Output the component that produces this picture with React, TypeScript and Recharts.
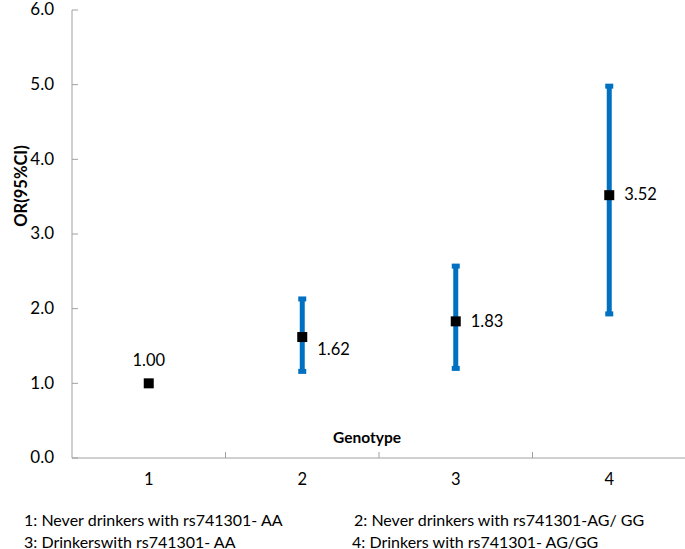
import React from 'react';
import { ScatterChart, Scatter, XAxis, YAxis, ErrorBar } from 'recharts';

const genotypes = [1, 2, 3, 4];
const orValues = [1.0, 1.62, 1.83, 3.52];
const ciLower: (number | null)[] = [null, 1.16, 1.2, 1.93];
const ciUpper: (number | null)[] = [null, 2.13, 2.57, 4.98];
const yTicks = [0, 1, 2, 3, 4, 5, 6];
const xTicks = [0.5, 1, 1.5, 2, 2.5, 3, 3.5, 4, 4.5];
const footnotes = [
  '1: Never drinkers with rs741301- AA',
  '2: Never drinkers with rs741301-AG/ GG',
  '3: Drinkerswith rs741301- AA',
  '4: Drinkers with rs741301- AG/GG'
];

const data = genotypes.map((g, i) => ({
  genotype: g,
  or: orValues[i],
  ci:
    ciLower[i] == null || ciUpper[i] == null
      ? null
      : [orValues[i] - (ciLower[i] as number), (ciUpper[i] as number) - orValues[i]]
}));

const FONT = 'Lato, "Open Sans", sans-serif';
const AXIS = '#a0a0a0';
const BLUE = '#0070c0';

const XTick = (props: any) => {
  const { x, y, payload } = props;
  const v = payload.value;
  if (Number.isInteger(v)) {
    return (
      <text x={x} y={y + 23} textAnchor="middle" dominantBaseline="middle" fontSize={16.5} fontFamily={FONT} fill="#000">
        {v}
      </text>
    );
  }
  if (v > 0.5 && v < 4.5) {
    return <line x1={x} x2={x} y1={y} y2={y - 6} stroke={AXIS} strokeWidth={1} />;
  }
  return null;
};

const YTick = (props: any) => {
  const { x, y, payload } = props;
  return (
    <g>
      <line x1={x} x2={x + 6} y1={y} y2={y} stroke={AXIS} strokeWidth={1} />
      <text x={x - 18} y={y + 1} textAnchor="end" dominantBaseline="middle" fontSize={17} fontFamily={FONT} fill="#000">
        {payload.value.toFixed(1)}
      </text>
    </g>
  );
};

const PointShape = (props: any) => {
  const { cx, cy, payload, index } = props;
  const s = 10;
  const label = payload.or.toFixed(2);
  const above = index === 0;
  return (
    <g>
      <rect x={cx - s / 2} y={cy - s / 2} width={s} height={s} fill="#000" />
      {above ? (
        <text x={cx} y={cy - 22} textAnchor="middle" dominantBaseline="middle" fontSize={16.5} fontFamily={FONT} fill="#000">
          {label}
        </text>
      ) : (
        <text
          x={cx + 15}
          y={cy + (index === 1 ? 14 : 1)}
          textAnchor="start"
          dominantBaseline="middle"
          fontSize={16.5}
          fontFamily={FONT}
          fill="#000"
        >
          {label}
        </text>
      )}
    </g>
  );
};

const App = () => {
  return (
    <div style={{ position: 'absolute', left: 0, top: 0, width: 685, height: 549, overflow: 'hidden', background: '#fff' }}>
      <ScatterChart width={700} height={549} margin={{ top: 10, right: 14, left: 0, bottom: 51 }}>
        <XAxis
          type="number"
          dataKey="genotype"
          domain={[0.5, 4.5]}
          ticks={xTicks}
          interval={0}
          tickSize={0}
          tickMargin={0}
          tickLine={false}
          height={40}
          axisLine={{ stroke: AXIS }}
          tick={<XTick />}
        />
        <YAxis
          type="number"
          dataKey="or"
          domain={[0, 6]}
          ticks={yTicks}
          interval={0}
          tickSize={0}
          tickMargin={0}
          tickLine={false}
          width={72}
          axisLine={{ stroke: AXIS }}
          tick={<YTick />}
        />
        <Scatter data={data} isAnimationActive={false} shape={() => <g />}>
          <ErrorBar dataKey="ci" direction="y" width={4} stroke={BLUE} strokeWidth={5} isAnimationActive={false} />
        </Scatter>
        <Scatter data={data} isAnimationActive={false} shape={<PointShape />} />
      </ScatterChart>
      <div
        style={{
          position: 'absolute',
          left: 367,
          top: 437,
          transform: 'translate(-50%, -50%)',
          fontFamily: FONT,
          fontWeight: 'bold',
          fontSize: 15.5,
          whiteSpace: 'nowrap'
        }}
      >
        Genotype
      </div>
      <div
        style={{
          position: 'absolute',
          left: 21,
          top: 186,
          transform: 'translate(-50%, -50%) rotate(-90deg)',
          fontFamily: FONT,
          fontWeight: 'bold',
          fontSize: 16.5,
          whiteSpace: 'nowrap'
        }}
      >
        OR(95%CI)
      </div>
      {footnotes.map((t, i) => (
        <div
          key={t}
          style={{
            position: 'absolute',
            left: i % 2 === 0 ? 24 : i === 1 ? 354 : 352,
            top: i < 2 ? 519 : 541,
            transform: 'translateY(-50%)',
            fontFamily: FONT,
            fontSize: 16,
            whiteSpace: 'nowrap'
          }}
        >
          {t}
        </div>
      ))}
    </div>
  );
};

export default App;
